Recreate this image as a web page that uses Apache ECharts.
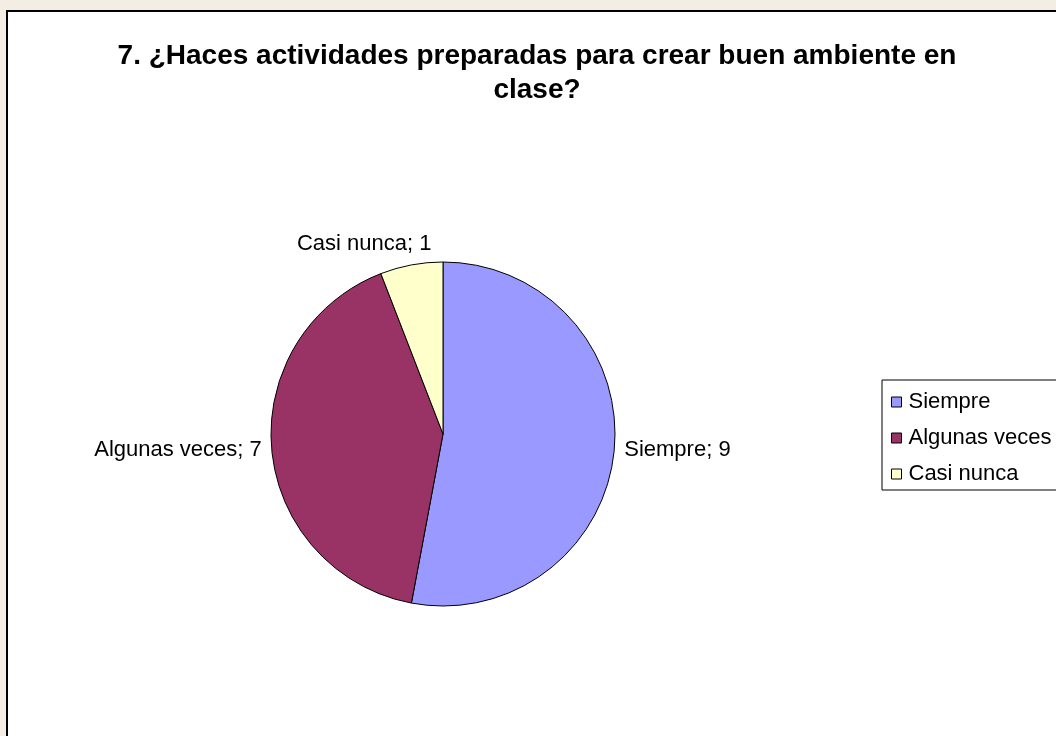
<!DOCTYPE html>
<html>
<head>
<meta charset="utf-8">
<script src="https://cdn.jsdelivr.net/npm/echarts@6/dist/echarts.min.js"></script>
<style>
  html, body { margin: 0; padding: 0; background: #f4ede3; }
  #chart { width: 1056px; height: 736px; }
</style>
</head>
<body>
<div id="chart"></div>
<script>
// datos de la encuesta
const categories = ['Siempre', 'Algunas veces', 'Casi nunca'];
const values = [9, 7, 1];
const colors = ['#9999ff', '#993366', '#ffffcc'];

const chart = echarts.init(document.getElementById('chart'));

const option = {
  backgroundColor: '#f4ede3',
  animation: false,
  graphic: [
    {
      // marco blanco del gráfico
      type: 'rect',
      z: -10,
      shape: { x: 7, y: 11, width: 1200, height: 900 },
      style: { fill: '#ffffff', stroke: '#000000', lineWidth: 2 }
    }
  ],
  title: {
    text: '7. ¿Haces actividades preparadas para crear buen ambiente en\nclase?',
    left: 532,
    top: 34,
    textAlign: 'center',
    textStyle: {
      fontFamily: 'Liberation Sans, Arial, sans-serif',
      fontSize: 28,
      fontWeight: 'bold',
      color: '#000',
      lineHeight: 34
    }
  },
  legend: {
    orient: 'vertical',
    left: 882,
    top: 380,
    data: categories,
    icon: 'rect',
    itemWidth: 10,
    itemHeight: 10,
    itemGap: 14,
    padding: [11, 60, 5, 9],
    borderColor: '#000',
    borderWidth: 1,
    backgroundColor: '#fff',
    textStyle: {
      fontFamily: 'Liberation Sans, Arial, sans-serif',
      fontSize: 22,
      lineHeight: 22,
      color: '#000',
      padding: [0, 0, 0, 2]
    },
    itemStyle: { borderColor: '#000', borderWidth: 1 }
  },
  series: [
    {
      type: 'pie',
      center: [443, 434],
      radius: 172,
      startAngle: 90,
      clockwise: true,
      avoidLabelOverlap: false,
      data: categories.map((name, i) => ({
        name: name,
        value: values[i],
        itemStyle: { color: colors[i] }
      })),
      itemStyle: { borderColor: '#000', borderWidth: 1 },
      label: {
        show: true,
        position: 'outside',
        formatter: '{b}; {c}',
        fontFamily: 'Liberation Sans, Arial, sans-serif',
        fontSize: 22,
        color: '#000'
      },
      labelLine: { show: false, length: 5, length2: 0 },
      // la etiqueta pequeña va centrada sobre su porción
      labelLayout: function (params) {
        if (params.dataIndex === 2) {
          return { dx: 26, dy: -16 };
        }
      },
      emphasis: { disabled: true }
    }
  ]
};

chart.setOption(option);
</script>
</body>
</html>
